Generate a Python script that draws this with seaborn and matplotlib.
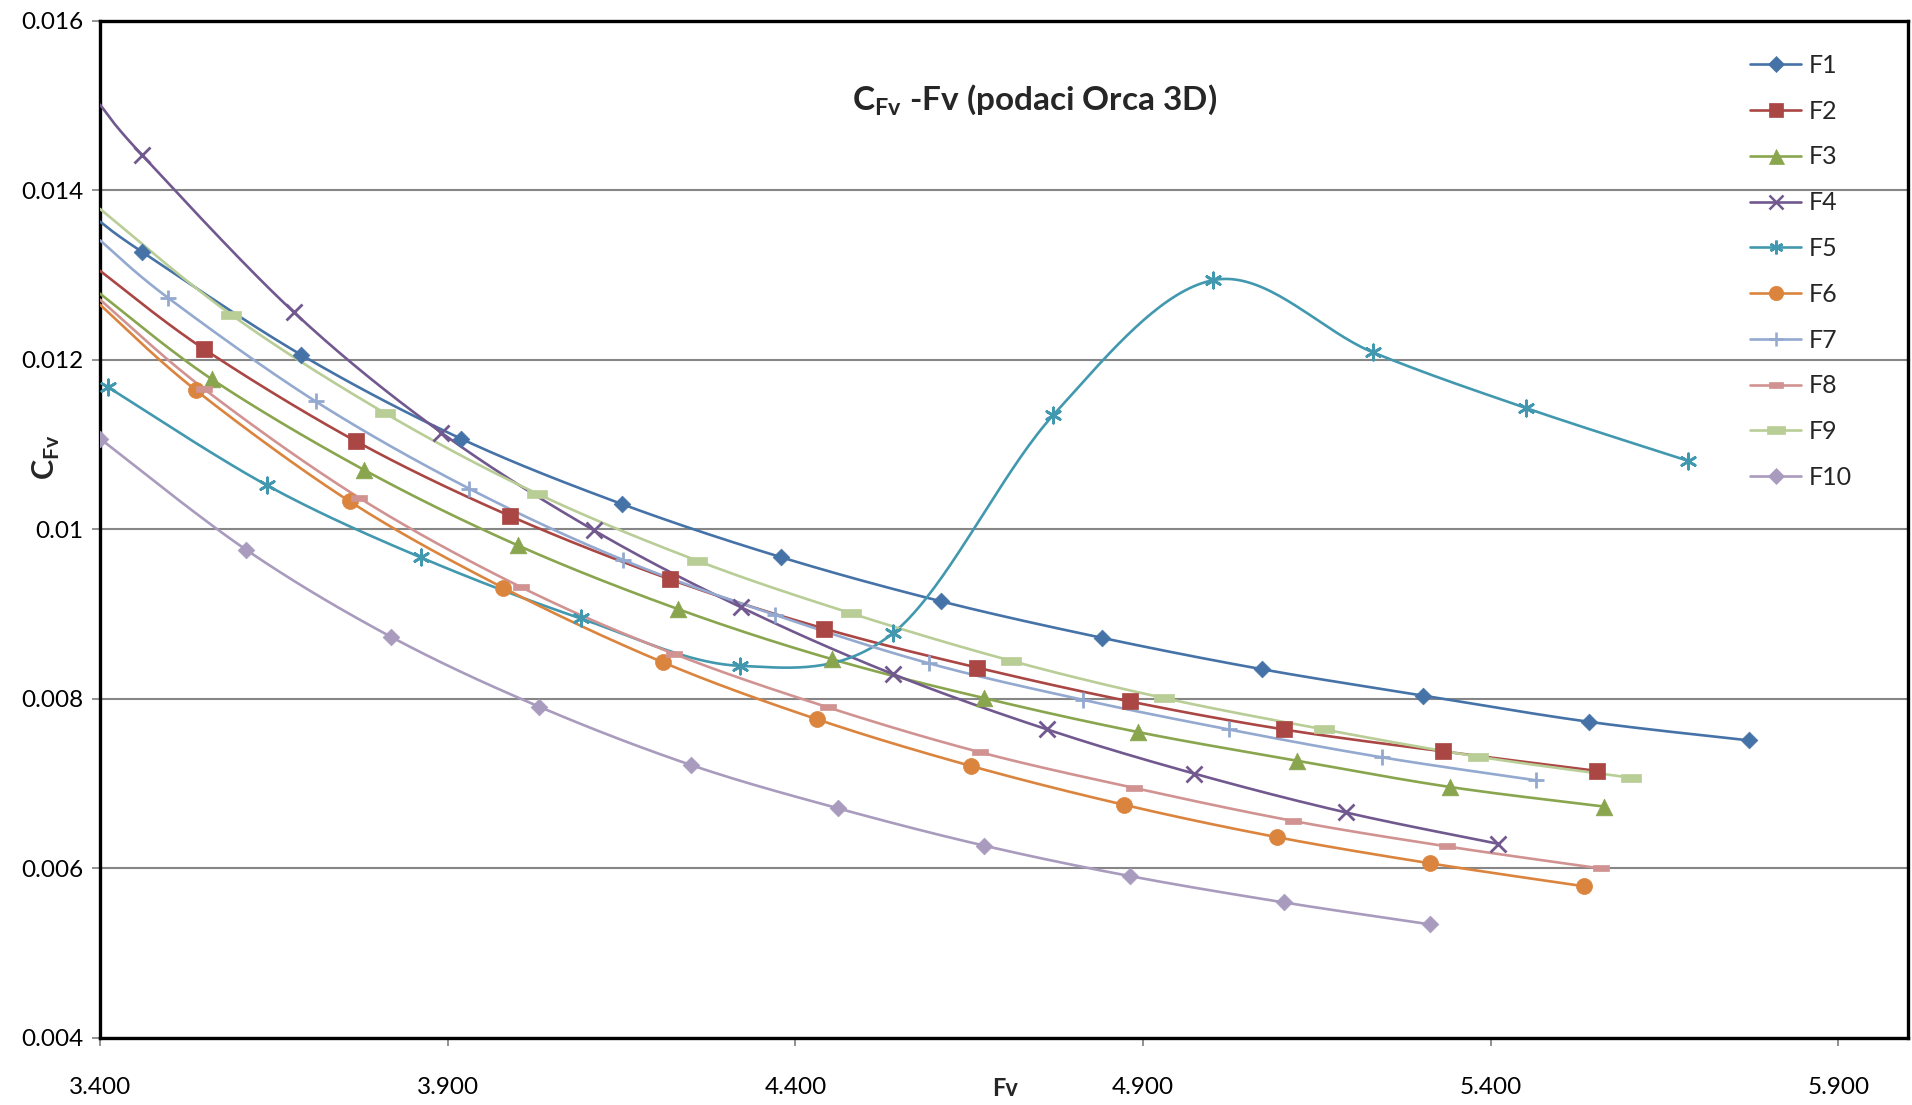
import numpy as np
import pandas as pd
import seaborn as sns
import matplotlib.pyplot as plt
from matplotlib.lines import Line2D
from matplotlib.path import Path

# Data (Fv, C_Fv)
series = ['F1', 'F2', 'F3', 'F4', 'F5', 'F6', 'F7', 'F8', 'F9', 'F10']

f1_fv = [3.461, 3.689, 3.919, 4.150, 4.380, 4.610, 4.841, 5.071, 5.302, 5.541, 5.772]
f1_cfv = [0.01327, 0.01206, 0.01107, 0.01030, 0.00967, 0.00915, 0.00872, 0.00835, 0.00804, 0.00773, 0.00751]

f2_fv = [3.549, 3.768, 3.989, 4.220, 4.441, 4.661, 4.881, 5.102, 5.332, 5.553]
f2_cfv = [0.01213, 0.01104, 0.01016, 0.00941, 0.00883, 0.00837, 0.00797, 0.00764, 0.00738, 0.00715]

f3_fv = [3.561, 3.780, 4.001, 4.231, 4.452, 4.671, 4.892, 5.122, 5.342, 5.563]
f3_cfv = [0.01177, 0.01070, 0.00981, 0.00906, 0.00847, 0.00801, 0.00761, 0.00727, 0.00696, 0.00673]

f4_fv = [3.460, 3.679, 3.891, 4.110, 4.322, 4.541, 4.762, 4.973, 5.192, 5.411]
f4_cfv = [0.01442, 0.01256, 0.01114, 0.00999, 0.00908, 0.00829, 0.00764, 0.00712, 0.00666, 0.00629]

f5_fv = [3.411, 3.640, 3.861, 4.091, 4.320, 4.541, 4.771, 5.001, 5.230, 5.451, 5.683]
f5_cfv = [0.01168, 0.01052, 0.00967, 0.00895, 0.00839, 0.00878, 0.01135, 0.01294, 0.01209, 0.01143, 0.01081]

f6_fv = [3.538, 3.759, 3.980, 4.210, 4.431, 4.652, 4.873, 5.092, 5.313, 5.534]
f6_cfv = [0.01164, 0.01033, 0.00931, 0.00843, 0.00776, 0.00721, 0.00675, 0.00637, 0.00606, 0.00579]

f7_fv = [3.498, 3.710, 3.931, 4.152, 4.371, 4.592, 4.813, 5.023, 5.244, 5.465]
f7_cfv = [0.01273, 0.01151, 0.01048, 0.00964, 0.00899, 0.00842, 0.00799, 0.00764, 0.00731, 0.00704]

f8_fv = [3.549, 3.773, 4.005, 4.226, 4.447, 4.666, 4.887, 5.116, 5.337, 5.558]
f8_cfv = [0.01166, 0.01037, 0.00932, 0.00853, 0.00790, 0.00737, 0.00695, 0.00656, 0.00626, 0.00600]

f9_fv = [3.589, 3.810, 4.029, 4.259, 4.480, 4.710, 4.930, 5.160, 5.381, 5.602]
f9_cfv = [0.01253, 0.01137, 0.01042, 0.00963, 0.00901, 0.00845, 0.00801, 0.00764, 0.00732, 0.00707]

f10_fv = [3.400, 3.610, 3.819, 4.031, 4.250, 4.461, 4.671, 4.881, 5.102, 5.313]
f10_cfv = [0.01107, 0.00976, 0.00873, 0.00791, 0.00722, 0.00671, 0.00627, 0.00591, 0.00560, 0.00534]

# where the (clipped) lines cross the left axis at Fv = 3.400; None = starts at a marker
cfv_at_axis = [0.01363, 0.01305, 0.01278, 0.01501, None, 0.01265, 0.01341, 0.01271, 0.01378, None]

fv_all = [f1_fv, f2_fv, f3_fv, f4_fv, f5_fv, f6_fv, f7_fv, f8_fv, f9_fv, f10_fv]
cfv_all = [f1_cfv, f2_cfv, f3_cfv, f4_cfv, f5_cfv, f6_cfv, f7_cfv, f8_cfv, f9_cfv, f10_cfv]

colors = ['#4572A7', '#AA4643', '#89A54E', '#71588F', '#4198AF',
          '#DB843D', '#93A9CF', '#D19392', '#B9CD96', '#A99BBD']

rect = Path([(-0.5, -0.22), (0.5, -0.22), (0.5, 0.22), (-0.5, 0.22), (-0.5, -0.22)])
markers = ['D', 's', '^', 'x', (6, 2, 0), 'o', '+', rect, rect, 'D']
msizes = [8.5, 11, 12, 11.5, 11, 11.5, 11, 11, 14.5, 8.5]
line_art = [False, False, False, True, True, False, True, False, False, False]


def excel_smooth(xs, ys, n=40):
    # Bezier smoothing like Excel's "smoothed line"
    p = np.column_stack([xs, ys])
    pe = np.vstack([p[0], p, p[-1]])
    t = np.linspace(0, 1, n)[:, None]
    out = []
    for i in range(len(p) - 1):
        p0, p3 = pe[i + 1], pe[i + 2]
        p1 = p0 + (pe[i + 2] - pe[i]) / 6
        p2 = p3 - (pe[i + 3] - pe[i + 1]) / 6
        seg = ((1 - t) ** 3) * p0 + 3 * ((1 - t) ** 2) * t * p1 + 3 * (1 - t) * t ** 2 * p2 + t ** 3 * p3
        out.append(seg if i == 0 else seg[1:])
    out = np.vstack(out)
    return out[:, 0], out[:, 1]


sns.set_theme(style='white')
plt.rcParams['font.family'] = ['Lato', 'DejaVu Sans']
plt.rcParams['mathtext.fontset'] = 'custom'
plt.rcParams['mathtext.rm'] = 'Lato'
plt.rcParams['mathtext.bf'] = 'Lato:bold'

fig = plt.figure(figsize=(19.12, 11.05), dpi=100)
ax = fig.add_axes([100 / 1912, 1 - 1038 / 1105, 1808 / 1912, (1038 - 20.7) / 1105])

handles = []
for name, xs, ys, start, c, m, ms, la in zip(series, fv_all, cfv_all, cfv_at_axis,
                                             colors, markers, msizes, line_art):
    lx, ly = list(xs), list(ys)
    if start is not None:
        lx = [3.4] + lx
        ly = [start] + ly
    sx, sy = excel_smooth(lx, ly)
    df = pd.DataFrame({'Fv': sx, 'CFv': sy})
    sns.lineplot(data=df, x='Fv', y='CFv', color=c, linewidth=1.9, sort=False,
                 estimator=None, ax=ax, zorder=3)
    pts = pd.DataFrame({'Fv': xs, 'CFv': ys})
    sns.scatterplot(data=pts, x='Fv', y='CFv', marker=m, s=ms ** 2, color=c,
                    edgecolor=c, linewidth=2.0 if la else 0.5, ax=ax, zorder=4)
    handles.append(Line2D([], [], color=c, lw=1.9, marker=m, markersize=ms * 0.9,
                          markeredgecolor=c, markeredgewidth=1.8 if la else 0.5,
                          label=name))

ax.set_xlim(3.4, 6.0)
ax.set_ylim(0.004, 0.016)
ax.set_xticks([3.4, 3.9, 4.4, 4.9, 5.4, 5.9])
ax.set_xticklabels(['3.400', '3.900', '4.400', '4.900', '5.400', '5.900'])
ax.set_yticks([0.004, 0.006, 0.008, 0.01, 0.012, 0.014, 0.016])
ax.set_yticklabels(['0.004', '0.006', '0.008', '0.01', '0.012', '0.014', '0.016'])
ax.tick_params(axis='both', labelsize=17.5, colors='#7f7f7f', labelcolor='black',
               length=6, width=1.2, direction='out')
ax.tick_params(axis='x', pad=22, bottom=True)
ax.tick_params(axis='y', pad=6, left=True)
ax.yaxis.grid(True, color='#868686', linewidth=1.5)
ax.xaxis.grid(False)
ax.set_axisbelow(True)
for sp in ax.spines.values():
    sp.set_color('black')
    sp.set_linewidth(2.4)
ax.set_xlabel('')
ax.set_ylabel('')

fig.text(1035 / 1912, 1 - 100 / 1105, r'C$_{\mathbf{Fv}}$ -Fv (podaci Orca 3D)',
         ha='center', va='center', fontsize=24, fontweight='bold')
fig.text(46 / 1912, 1 - 457 / 1105, r'C$_{\mathbf{Fv}}$', rotation=90,
         ha='center', va='center', fontsize=22, fontweight='bold')
fig.text(1005 / 1912, 1 - 1089 / 1105, 'Fv', ha='center', va='center',
         fontsize=17, fontweight='bold')

fig.legend(handles=handles, loc='upper left', bbox_to_anchor=(1750 / 1912, 1 - 54 / 1105),
           frameon=False, fontsize=18, handlelength=2.05, handletextpad=0.3,
           labelspacing=0.91, borderpad=0, borderaxespad=0)

fig.savefig('out.png', dpi=100)
